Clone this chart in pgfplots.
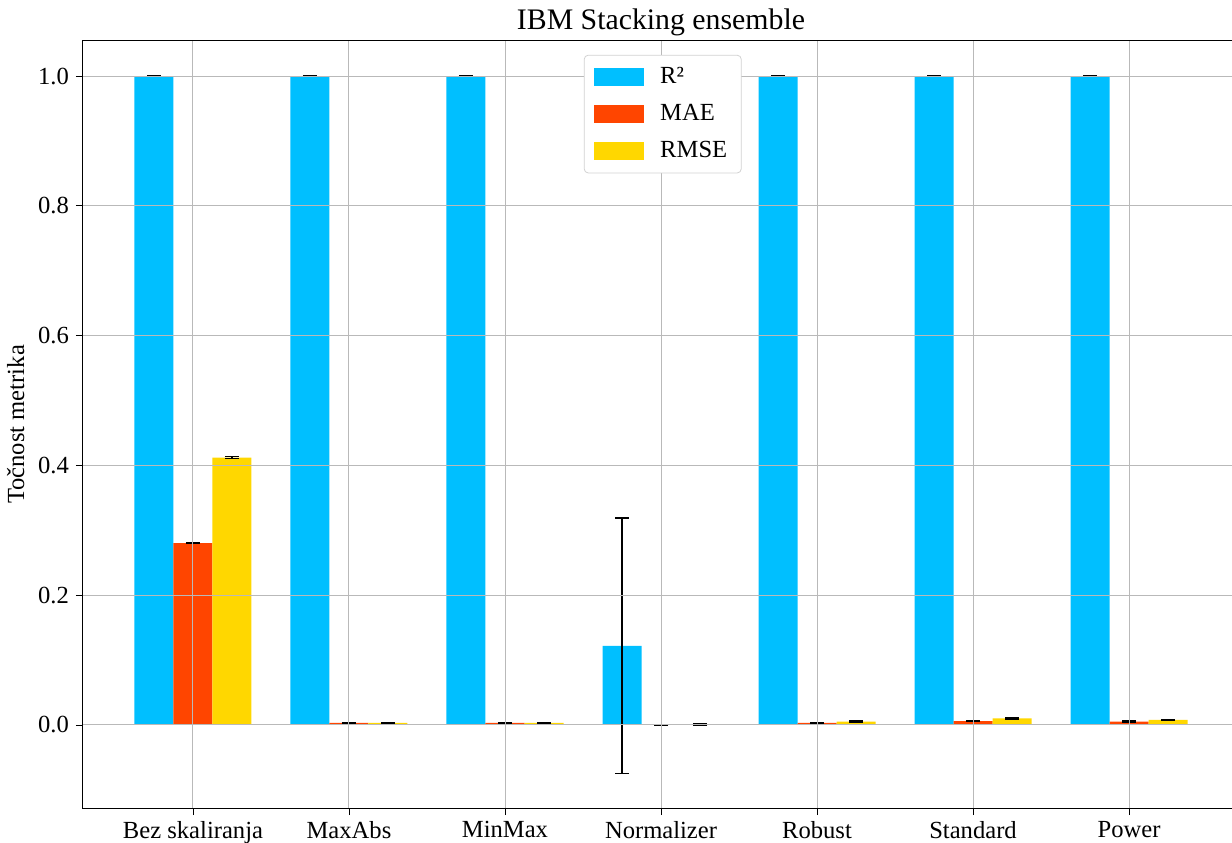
\documentclass[border=0pt]{standalone}
\usepackage{pgfplots}
\pgfplotsset{compat=1.18}
\usepackage{fontspec}
\setmainfont{Liberation Serif}
\definecolor{cR}{RGB}{0,191,255}
\definecolor{cM}{RGB}{255,69,0}
\definecolor{cS}{RGB}{255,215,0}
\pgfplotsset{
  myleg/.style={legend image code/.code={\fill[##1, sharp corners] (0pt,-4.5pt) rectangle (25pt,4.5pt); \path (31pt,0pt);}},
}
\begin{document}
\begin{tikzpicture}
\useasboundingbox (0,0) rectangle (616pt,421pt);
\begin{axis}[
  at={(41.5pt,17pt)}, anchor=south west,
  scale only axis,
  width=578pt, height=383.5pt,
  xmin=-0.705, xmax=6.705,
  ymin=-0.128, ymax=1.054,
  xtick={0,1,2,3,4,5,6},
  xticklabels={Bez skaliranja,MaxAbs,MinMax,Normalizer,Robust,Standard,Power},
  ytick={0,0.2,0.4,0.6,0.8,1.0},
  yticklabel style={/pgf/number format/.cd,fixed,fixed zerofill,precision=1},
  xticklabel style={yshift=0.5pt},
  /pgf/number format/assume math mode=true,
  ticklabel style={font=\fontsize{12.3}{14}\selectfont},
  tick align=outside, xtick pos=bottom, ytick pos=left,
  major tick length=3.5pt,
  tick style={black, line width=0.4pt},
  grid=major,
  grid style={gray!55, line width=0.5pt},
  axis on top,
  axis line style={black, line width=0.5pt},
  ylabel={Točnost metrika},
  ylabel style={font=\fontsize{12.3}{14}\selectfont},
  title={IBM Stacking ensemble},
  title style={font=\fontsize{14.9}{17}\selectfont, yshift=-7pt},
  legend style={at={(0.5015,0.982)}, anchor=north, draw=gray!35, rounded corners=2pt,
    font=\fontsize{12.3}{14}\selectfont, row sep=5pt, inner xsep=5pt, inner ysep=4pt,
    legend cell align=left},
  ybar, bar width=0.25, bar shift=0pt,
  error bars/error bar style={black, line width=0.7pt},
  error bars/error mark options={rotate=90, mark size=3.5pt, black, line width=0.7pt},
]
\addplot[fill=cR, draw=none, myleg, error bars/.cd, y dir=both, y explicit] coordinates {
  (-0.25,1.0) +- (0,0.0005)
  (0.75,1.0) +- (0,0.0005)
  (1.75,1.0) +- (0,0.0005)
  (2.75,0.122) +- (0,0.197)
  (3.75,1.0) +- (0,0.0005)
  (4.75,1.0) +- (0,0.0005)
  (5.75,1.0) +- (0,0.0005)
};
\addlegendentry{R²}
\addplot[fill=cM, draw=none, myleg, error bars/.cd, y dir=both, y explicit] coordinates {
  (0,0.280) +- (0,0.0008)
  (1,0.003) +- (0,0.0008)
  (2,0.003) +- (0,0.0008)
  (3,0.0003) +- (0,0.0008)
  (4,0.003) +- (0,0.0008)
  (5,0.006) +- (0,0.0008)
  (6,0.005) +- (0,0.0008)
};
\addlegendentry{MAE}
\addplot[fill=cS, draw=none, myleg, error bars/.cd, y dir=both, y explicit] coordinates {
  (0.25,0.412) +- (0,0.0015)
  (1.25,0.003) +- (0,0.0008)
  (2.25,0.003) +- (0,0.0008)
  (3.25,0.001) +- (0,0.0008)
  (4.25,0.005) +- (0,0.0008)
  (5.25,0.010) +- (0,0.0008)
  (6.25,0.008) +- (0,0.0008)
};
\addlegendentry{RMSE}
\end{axis}
\end{tikzpicture}
\end{document}
